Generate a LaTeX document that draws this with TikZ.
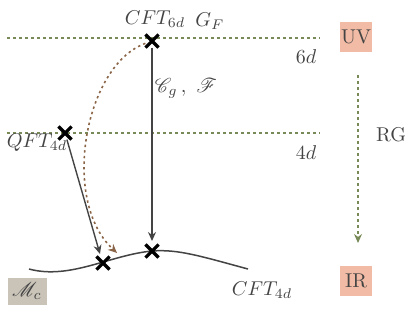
\documentclass[tikz,border=0pt]{standalone}
\usepackage{mathrsfs}
\usetikzlibrary{arrows.meta,shapes.misc}
\definecolor{salmon}{HTML}{F2BBA5}
\definecolor{boxgray}{HTML}{C9C3B8}
\definecolor{rggreen}{HTML}{778A58}
\definecolor{flowbrown}{HTML}{8B6547}
\definecolor{dark}{HTML}{444444}
\begin{document}
\begin{tikzpicture}[x=0.5pt,y=-0.5pt,
  every node/.style={font=\fontsize{10}{12}\selectfont, text=dark},
  lvl/.style={rggreen, line width=0.75pt, dash pattern=on 1.7pt off 1.3pt},
  flow/.style={dark, line width=0.7pt, -{Stealth[length=4.5pt,width=4pt]}},
  pt/.style={cross out, draw=black, line width=1.6pt, minimum size=5pt, inner sep=0pt},
  tag/.style={fill=salmon, minimum width=16pt, minimum height=15pt, inner sep=0pt}]
\useasboundingbox (0,0) rectangle (415,328);
% level lines
\coordinate (l6a) at (7,38); \coordinate (l6b) at (320,38);
\coordinate (l4a) at (7,133); \coordinate (l4b) at (320,133);
\draw[lvl] (l6a) -- (l6b);
\draw[lvl] (l4a) -- (l4b);
% conformal manifold curve
\coordinate (m0) at (29,269); \coordinate (mp) at (152,251); \coordinate (m1) at (248,269);
\draw[dark, line width=0.75pt] (m0) .. controls (70,280) and (110,255) .. (mp)
   .. controls (178,249) and (200,256) .. (m1);
% points
\node[pt] (c6) at (152,41) {};
\node[pt] (q4) at (65,133) {};
\node[pt] (p1) at (103,263) {};
\node[pt] (p2) at (152,251) {};
\coordinate (a1) at (100,254);
\coordinate (a2) at (152,241);
\coordinate (a3) at (117,253);
% flows
\draw[flow] (c6) -- (a2);
\draw[flow] (q4) -- (a1);
\draw[flowbrown, line width=0.8pt, dash pattern=on 1.2pt off 1.6pt,
  -{Stealth[length=4.5pt,width=4pt]}] (c6) .. controls (85,65) and (60,200) .. (a3);
% labels
\node (lc6) at (155,19) {$CFT_{6d}$};
\node (lgf) at (210,21) {$G_F$};
\node (lcg) at (186,88) {$\mathscr{C}_g\,,\ \mathscr{F}$};
\node (l6) at (306,57) {$6d$};
\node (l4) at (306,153) {$4d$};
\node (lq4) at (37,143) {$QFT_{4d}$};
\node (lc4) at (262,290) {$CFT_{4d}$};
\node (lrg) at (391,135) {RG};
% boxes
\node[tag] (uv) at (356,37) {UV};
\node[tag] (ir) at (356,281) {IR};
\node[fill=boxgray, minimum width=19.5pt, minimum height=13.5pt, inner sep=0pt] (mc) at (27,291) {$\mathscr{M}_c$};
% RG arrow
\coordinate (rg0) at (358,75); \coordinate (rg1) at (358,243);
\draw[rggreen, line width=0.75pt, dash pattern=on 1.7pt off 1.3pt,
  -{Stealth[length=4.5pt,width=4pt]}] (rg0) -- (rg1);
\end{tikzpicture}
\end{document}
